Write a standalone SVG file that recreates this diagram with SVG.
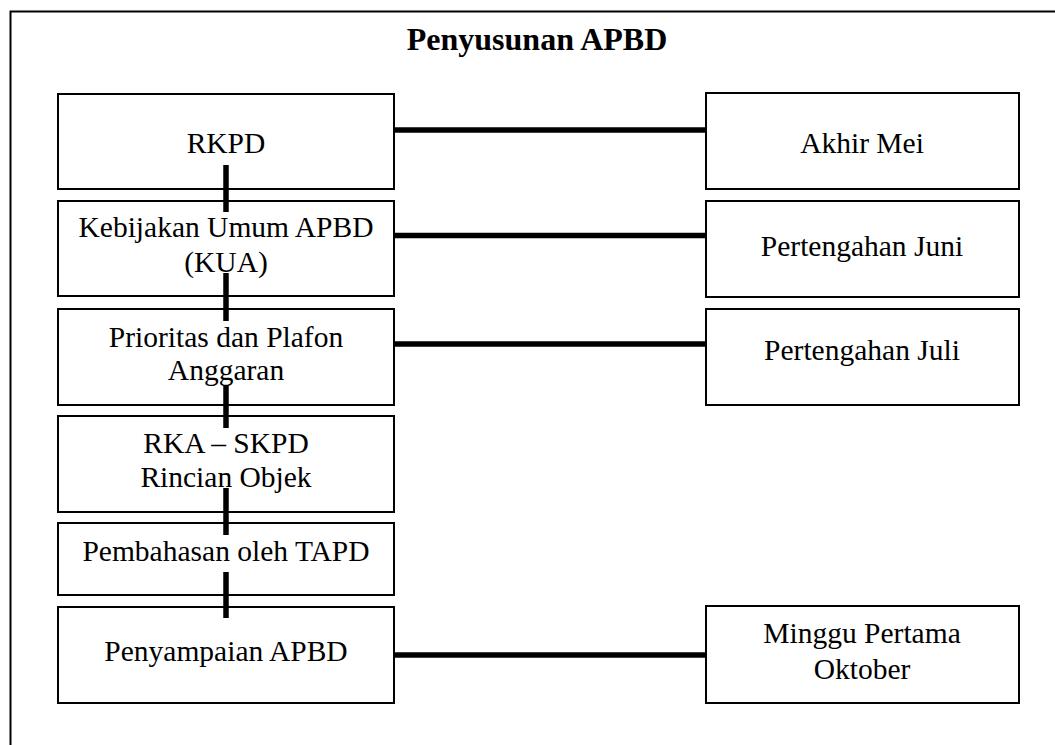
<svg xmlns="http://www.w3.org/2000/svg" width="1055" height="745" viewBox="0 0 1055 745">
<style>
.box{fill:#fff;stroke:#000;stroke-width:2}
.t{font-family:"Liberation Serif","Times New Roman",serif;font-size:29.5px;fill:#000;text-anchor:middle}
.title{font-family:"Liberation Serif","Times New Roman",serif;font-size:32px;font-weight:bold;fill:#000;text-anchor:middle}
.c{stroke:#000;stroke-width:5.5;fill:none}
</style>
<rect x="0" y="0" width="1055" height="745" fill="#fff"/>
<path d="M10.5,745 V11.5 H1055" fill="none" stroke="#000" stroke-width="2"/>
<text class="title" x="537" y="50">Penyusunan APBD</text>
<g id="n-rkpd"><rect class="box" x="58" y="94" width="336" height="95"/><text class="t" x="226" y="153">RKPD</text></g>
<g id="n-kua"><rect class="box" x="58" y="201" width="336" height="95"/><text class="t" x="226" y="237">Kebijakan Umum APBD</text><text class="t" x="226" y="272">(KUA)</text></g>
<g id="n-ppa"><rect class="box" x="58" y="309" width="336" height="96"/><text class="t" x="226" y="347">Prioritas dan Plafon</text><text class="t" x="226" y="380">Anggaran</text></g>
<g id="n-rka"><rect class="box" x="58" y="416" width="336" height="96"/><text class="t" x="226" y="453">RKA – SKPD</text><text class="t" x="226" y="487">Rincian Objek</text></g>
<g id="n-tapd"><rect class="box" x="58" y="523" width="336" height="72"/><text class="t" x="226" y="561">Pembahasan oleh TAPD</text></g>
<g id="n-apbd"><rect class="box" x="58" y="607" width="336" height="96"/><text class="t" x="226" y="661">Penyampaian APBD</text></g>
<g id="n-mei"><rect class="box" x="706" y="93" width="313" height="96"/><text class="t" x="862" y="153">Akhir Mei</text></g>
<g id="n-juni"><rect class="box" x="706" y="201" width="313" height="96"/><text class="t" x="862" y="256">Pertengahan Juni</text></g>
<g id="n-juli"><rect class="box" x="706" y="309" width="313" height="96"/><text class="t" x="862" y="360">Pertengahan Juli</text></g>
<g id="n-okt"><rect class="box" x="706" y="606" width="313" height="97"/><text class="t" x="862" y="643">Minggu Pertama</text><text class="t" x="862" y="679">Oktober</text></g>
<g id="connectors">
<line class="c" x1="395" y1="130" x2="706" y2="130"/>
<line class="c" x1="395" y1="235.5" x2="706" y2="235.5"/>
<line class="c" x1="395" y1="344" x2="706" y2="344"/>
<line class="c" x1="395" y1="655" x2="706" y2="655"/>
<line class="c" x1="226" y1="165" x2="226" y2="212"/>
<line class="c" x1="226" y1="273" x2="226" y2="321"/>
<line class="c" x1="226" y1="385" x2="226" y2="428"/>
<line class="c" x1="226" y1="488" x2="226" y2="535"/>
<line class="c" x1="226" y1="572" x2="226" y2="618"/>
</g>
</svg>
